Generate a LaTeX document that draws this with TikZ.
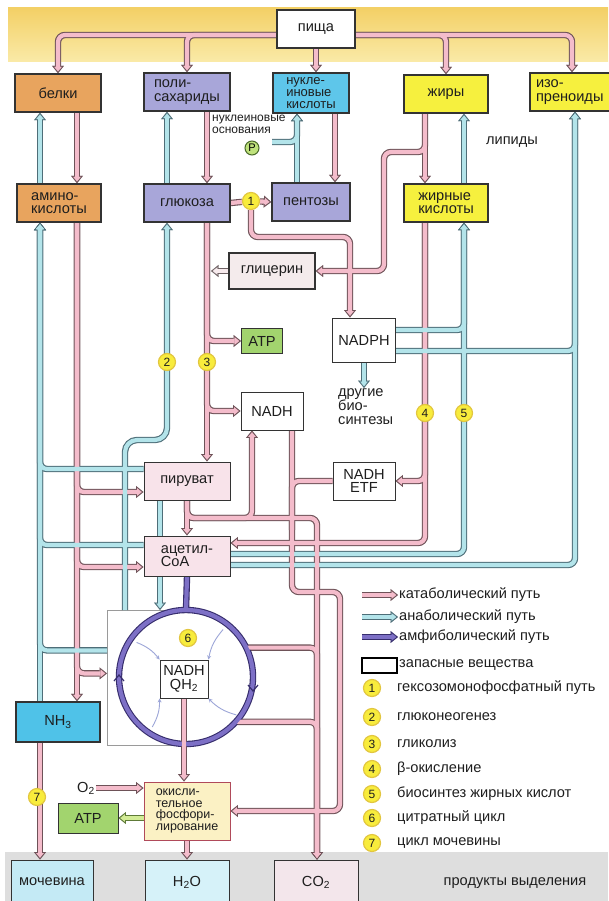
\documentclass[tikz,border=0pt]{standalone}
\usepackage{fontspec}
\setmainfont{Liberation Sans}
\usetikzlibrary{arrows.meta,calc}

\pgfdeclarelayer{fon}
\pgfsetlayers{fon,main}

\definecolor{katF}{HTML}{F4BCCB}
\definecolor{katE}{HTML}{6E5258}
\definecolor{anaF}{HTML}{B3E4EA}
\definecolor{anaE}{HTML}{4E6E78}
\definecolor{amfF}{HTML}{7D70C6}
\definecolor{amfE}{HTML}{362D6C}
\definecolor{zelF}{HTML}{D3EC96}
\definecolor{zelE}{HTML}{5E7A38}
\definecolor{svetF}{HTML}{F7EAED}
\definecolor{svetE}{HTML}{6E6264}
\definecolor{ramka}{HTML}{333333}
\definecolor{tekst}{HTML}{1E1E1E}
\definecolor{pishaF}{HTML}{FFFFFF}
\definecolor{belF}{HTML}{E8A45E}
\definecolor{uglF}{HTML}{A8A6D9}
\definecolor{nukF}{HTML}{5EC6EA}
\definecolor{zhF}{HTML}{F6F03E}
\definecolor{glicF}{HTML}{F4EBEC}
\definecolor{atpF}{HTML}{A2D46E}
\definecolor{pirF}{HTML}{F8E3EA}
\definecolor{oxF}{HTML}{FBF1C4}
\definecolor{oxE}{HTML}{B04A5A}
\definecolor{nhF}{HTML}{4FC2E8}
\definecolor{mochF}{HTML}{C4EAF5}
\definecolor{vodaF}{HTML}{D6F2F9}
\definecolor{coF}{HTML}{F3E6EB}
\definecolor{numF}{HTML}{F8EC3C}
\definecolor{numE}{HTML}{E2C640}
\definecolor{fosF}{HTML}{BFE27C}
\definecolor{fosE}{HTML}{4A6A2A}
\definecolor{topA}{HTML}{F3D066}
\definecolor{topB}{HTML}{FAEAA8}
\definecolor{seryj}{HTML}{DEDEDE}
\definecolor{zapE}{HTML}{9A9A9A}
\definecolor{malC}{HTML}{9DA6D8}

\newcommand\shrift{\fontsize{14.6}{13.5}\selectfont}
\newcommand\melkij{\fontsize{12}{11.5}\selectfont}
\newcommand\cifra{\fontsize{12}{12}\selectfont}

\tikzset{
  blok/.style={draw=ramka, line width=0.9pt, minimum width=84pt, minimum height=38pt,
    inner sep=1pt, font=\shrift, text=tekst, align=center},
  verh/.style={blok, line width=1.4pt, align=left},
  num/.style={circle, fill=numF, draw=numE, line width=1.2pt, minimum size=17pt,
    inner sep=0pt, font=\cifra, text=tekst},
  leg/.style={font=\shrift, text=tekst, inner sep=1pt, anchor=west},
  obvod/.style={line width=6.4pt, rounded corners=7pt},
  zaliv/.style={line width=4.2pt, rounded corners=7pt},
  prohod1/.style={kat/.style={obvod, draw=katE}, ana/.style={obvod, draw=anaE},
    amf/.style={obvod, draw=amfE}, zel/.style={obvod, draw=zelE}, svet/.style={obvod, draw=svetE},
    strelka/.style={-{Triangle[width=12pt, length=7.5pt, line width=0.1pt]}}},
  prohod2/.style={kat/.style={zaliv, draw=katF}, ana/.style={zaliv, draw=anaF},
    amf/.style={zaliv, draw=amfF}, zel/.style={zaliv, draw=zelF}, svet/.style={zaliv, draw=svetF},
    strelka/.style={-{Triangle[width=7.4pt, length=4.6pt, sep=1.8pt, line width=0.1pt]}}},
  mal/.style={draw=malC, line width=0.9pt, -{Stealth[length=4pt, width=4pt]}},
}

% все трубы: рисуются дважды (контур, потом заливка)
\newcommand\truby{%
  % пища
  \draw[kat,strelka] ([yshift=-6pt]pisha.west) -| (belki.north);
  \draw[kat,strelka] ([yshift=-6pt]pisha.west) -| (poly.north);
  \draw[kat,strelka] (pisha.south) -- (pisha.south |- nukl.north);
  \draw[kat,strelka] ([yshift=-6pt]pisha.east) -| (zhiry.north);
  \draw[kat,strelka] ([yshift=-6pt]pisha.east) -| (izo.north);
  % белки, аминокислоты
  \draw[kat,strelka] (belki.south -| xb) -- (amino.north -| xb);
  \draw[ana,strelka] (amino.north -| xa) -- (belki.south -| xa);
  \draw[kat,strelka] (amino.south -| xb) -- (nh3.north -| xb);
  \draw[ana,strelka] (nh3.north -| xa) -- (amino.south -| xa);
  \draw[kat,strelka] (amino.south -| xb) |- ([yshift=-11pt]piruv.west);
  \draw[kat,strelka] (amino.south -| xb) |- ([yshift=-11pt]acetyl.west);
  \draw[kat,strelka] (amino.south -| xb) |- ([yshift=4.5pt]zap.west);
  \draw[ana,strelka] ([yshift=12pt]piruv.west) -| (amino.south -| xa);
  \draw[ana,strelka] ([yshift=11pt]acetyl.west) -| (amino.south -| xa);
  \draw[ana,strelka] ([yshift=27.5pt]zap.west) -| (amino.south -| xa);
  \draw[kat,strelka] (nh3.south -| xa) -- (moch.north -| xa);
  % углеводы
  \draw[kat,strelka] (poly.south -| xk) -- (gluk.north -| xk);
  \draw[ana,strelka] (gluk.north -| xg) -- (poly.south -| xg);
  \draw[ana,strelka,rounded corners=12pt] (zap.north -| xc) |- (j3) -- (gluk.south -| xg);
  \draw[kat,strelka] (gluk.south -| xk) -- (piruv.north -| xk);
  \draw[kat,strelka] (gluk.south -| xk) |- (atp1.west);
  \draw[kat,strelka] (gluk.south -| xk) |- (nadh.west);
  \draw[svet,strelka] (glic.west) -- (glic.west -| xk2);
  \draw[kat] (gluk.east) -- (c1);
  \draw[kat,strelka] (c1) -- (pent.west);
  \draw[kat,strelka] (c1) -- ++(0,36) -| (nadph.north -| xn);
  % нуклеиновые кислоты
  \draw[kat,strelka] (nukl.south -| xnu2) -- (pent.north -| xnu2);
  \draw[ana,strelka] (pent.north -| xnu1) -- (nukl.south -| xnu1);
  \draw[ana,strelka] (nb) -| (nukl.south -| xnu1);
  % жиры
  \draw[kat,strelka] (zhiry.south -| xf) -- (zhk.north -| xf);
  \draw[kat,strelka] (zhiry.south -| xf) |- (j4) |- (glic.east);
  \draw[ana,strelka] (zhk.north -| xs) -- (zhiry.south -| xs);
  \draw[kat,strelka] (zhk.south -| xf) |- ([yshift=13pt]acetyl.east);
  \draw[kat,strelka] (zhk.south -| xf) |- (etf.east);
  \draw[ana,strelka] ([yshift=2pt]acetyl.east) -| (zhk.south -| xs);
  \draw[ana,strelka] ([yshift=10pt]nadph.east) -| (zhk.south -| xs);
  \draw[ana,strelka] ([yshift=-9pt]acetyl.east) -| (izo.south -| xi);
  \draw[ana,strelka] ([yshift=-11pt]nadph.east) -| (izo.south -| xi);
  \draw[ana,strelka] (nadph.south) -- (nadph.south |- drug.north);
  % пируват, NADH
  \draw[kat,strelka] (piruv.south) -- (acetyl.north);
  \draw[kat,strelka] (piruv.south) |- (j5) -- (co2.north -| xco);
  \draw[kat,strelka] (piruv.south) |- (j6) -- (nadh.south -| xnb);
  \draw[ana,strelka] (piruv.south -| xp) -- (zap.north -| xp);
  \draw[kat,strelka] (nadh.south -| xq) |- (j7) |- (ox.east);
  \draw[kat] (etf.west) -| (j8);
  % цикл
  \draw[kat,strelka] (cyc.26) -| (co2.north -| xco);
  \draw[kat,strelka] (cyc.-42) -| (co2.north -| xco);
  \draw[amf] (cyc.center) circle[radius=67pt];
  \draw[amf] (acetyl.south) -- (cyc.north);
  \draw[kat,strelka] (nadhq.south) -- (nadhq.south |- ox.north);
  \draw[kat,strelka] (o2) -- ([yshift=23pt]ox.west);
  \draw[zel,strelka] (ox.west |- atp2.east) -- (atp2.east);
  \draw[kat,strelka] (ox.south) -- (h2o.north);
  % легенда
  \draw[kat,strelka] (lk0) -- (lk.west);
  \draw[ana,strelka] (la0) -- (la.west);
  \draw[amf,strelka] (lm0) -- (lm.west);
}

\begin{document}
\begin{tikzpicture}[x=1pt, y=-1pt]
\useasboundingbox (0,0) rectangle (608,901);

% узлы
\node[verh, fill=pishaF, minimum width=78pt] (pisha) at (316,29) {пища};
\node[verh, fill=belF, minimum width=86pt] (belki) at (58,93) {белки};
\node[verh, fill=uglF, minimum width=86pt] (poly) at (187,92) {поли-\\сахариды};
\node[verh, fill=nukF, minimum width=76pt, minimum height=40pt, font=\fontsize{13}{11.8}\selectfont] (nukl) at (311,93) {нукле-\\иновые\\кислоты};
\node[verh, fill=zhF] (zhiry) at (446,94) {жиры};
\node[verh, fill=zhF, text width=72pt] (izo) at (572,92) {изо-\\преноиды};
\node[verh, fill=belF] (amino) at (59,203) {амино-\\кислоты};
\node[verh, fill=uglF, minimum width=86pt] (gluk) at (187,203) {глюкоза};
\node[verh, fill=uglF, minimum width=78pt] (pent) at (311,202) {пентозы};
\node[verh, fill=zhF] (zhk) at (446,203) {жирные\\кислоты};
\node[blok, fill=glicF, line width=1.2pt, minimum width=86pt, minimum height=36pt] (glic) at (272,271) {глицерин};
\node[blok, fill=atpF, minimum width=41pt, minimum height=25pt] (atp1) at (262,341) {ATP};
\node[blok, fill=white, minimum width=63pt, minimum height=44pt] (nadph) at (364,340) {NADPH};
\node[blok, fill=white, minimum width=62pt] (nadh) at (272,411) {NADH};
\node[blok, fill=pirF, minimum width=86pt] (piruv) at (187,481) {пируват};
\node[blok, fill=white, minimum width=62pt] (etf) at (364,481) {NADH\\ETF};
\node[blok, fill=pirF, minimum width=86pt, minimum height=40pt, align=left] (acetyl) at (187,556) {ацетил-\\CoA};
\node[circle, minimum size=134pt, inner sep=0pt, outer sep=0pt] (cyc) at (186,677) {};
\node[blok, fill=white, minimum width=48pt, minimum height=38pt] (nadhq) at (184,679) {NADH\\QH\textsubscript{2}};
\node[blok, fill=oxF, draw=oxE, minimum width=86pt, minimum height=58pt, align=left, font=\fontsize{12.5}{11.5}\selectfont] (ox) at (187,811) {окисли-\\тельное\\фосфори-\\лирование};
\node[blok, fill=atpF, minimum width=60pt, minimum height=30pt] (atp2) at (88,818) {ATP};
\node[verh, fill=nhF, minimum height=40pt] (nh3) at (58,722) {NH\textsubscript{3}};
\node[blok, fill=mochF, minimum width=82pt, minimum height=44pt] (moch) at (52,882) {мочевина};
\node[blok, fill=vodaF, minimum width=84pt, minimum height=44pt] (h2o) at (187,882) {H\textsubscript{2}O};
\node[blok, fill=coF, minimum width=84pt, minimum height=44pt] (co2) at (316,882) {CO\textsubscript{2}};

% номера путей
\node[num] (c1) at (251,201) {1};
\node[num] (c2) at (167,362) {2};
\node[num] (c3) at (207,362) {3};
\node[num] (c4) at (425,413) {4};
\node[num] (c5) at (464,413) {5};
\node[num] (c6) at (188,638) {6};
\node[num] (c7) at (37,797) {7};

% подписи
\node[font=\melkij, text=tekst, align=left, anchor=north west, inner sep=0pt] (nosn) at (212,115) {нуклеиновые\\основания};
\node[circle, fill=fosF, draw=fosE, line width=1pt, minimum size=14pt, inner sep=0pt, font=\fontsize{11}{11}\selectfont] (fosf) at (252,148) {P};
\node[font=\shrift, text=tekst, align=left, anchor=north west, inner sep=0pt] (drug) at (338,388) {другие\\био-\\синтезы};
\node[font=\shrift, text=tekst] (lip) at (512,142) {липиды};
\node[font=\shrift, text=tekst, inner sep=1pt] (o2) at (86,788) {O\textsubscript{2}};
\node[font=\shrift, text=tekst] (prod) at (515,883) {продукты выделения};

% легенда
\coordinate (lk0) at (362,595);
\coordinate (la0) at (362,617);
\coordinate (lm0) at (362,637);
\node[leg] (lk) at (398,595) {катаболический путь};
\node[leg] (la) at (398,617) {анаболический путь};
\node[leg] (lm) at (398,637) {амфиболический путь};
\node[draw=black, line width=1.6pt, fill=white, minimum width=35pt, minimum height=15pt, inner sep=0pt] (lz) at (379.5,665.5) {};
\node[leg] (lzt) at (398,665) {запасные вещества};
\node[num] (n1) at (372,688) {1};
\node[leg] (t1) at (396,688) {гексозомонофосфатный путь};
\node[num] (n2) at (372,717) {2};
\node[leg] (t2) at (396,717) {глюконеогенез};
\node[num] (n3) at (372,744) {3};
\node[leg] (t3) at (396,744) {гликолиз};
\node[num] (n4) at (372,769) {4};
\node[leg] (t4) at (396,769) {β-окисление};
\node[num] (n5) at (372,794) {5};
\node[leg] (t5) at (396,794) {биосинтез жирных кислот};
\node[num] (n6) at (372,818) {6};
\node[leg] (t6) at (396,818) {цитратный цикл};
\node[num] (n7) at (372,843) {7};
\node[leg] (t7) at (396,843) {цикл мочевины};

% полосы и точки изгибов
\coordinate (xa) at (40,0);
\coordinate (xb) at (77,0);
\coordinate (xc) at (125,0);
\coordinate (xp) at (160,0);
\coordinate (xg) at (167,0);
\coordinate (xk) at (207,0);
\coordinate (xk2) at (211,0);
\coordinate (xnb) at (252,0);
\coordinate (xq) at (292,0);
\coordinate (xnu1) at (297,0);
\coordinate (xco) at (317,0);
\coordinate (xnu2) at (335,0);
\coordinate (xn) at (350,0);
\coordinate (xf) at (425,0);
\coordinate (xs) at (464,0);
\coordinate (xi) at (575,0);
\coordinate (j3) at (167,440);
\coordinate (j4) at (384,152);
\coordinate (j5) at (317,518);
\coordinate (j6) at (252,518);
\coordinate (j7) at (340,592);
\coordinate (j8) at (292,530);
\coordinate (nb) at (272,142);

% фон и трубы
\begin{pgfonlayer}{fon}
  \shade[top color=topA, bottom color=topB] (8,8) rectangle (608,62);
  \fill[seryj] (5,852) rectangle (608,901);
  \node[draw=zapE, line width=0.8pt, fill=white, minimum width=75pt, minimum height=135pt, anchor=north west, inner sep=0pt] (zap) at (107,610) {};
  \fill[white] (cyc.center) circle[radius=67pt];
  \begin{scope}[prohod1] \truby \end{scope}
  \begin{scope}[prohod2] \truby \end{scope}
\end{pgfonlayer}

% стрелки внутри цикла
\draw[mal] ($(cyc.center)!0.9!(cyc.145)$) to[bend left=15] (nadhq.north west);
\draw[mal] ($(cyc.center)!0.9!(cyc.52)$) to[bend right=15] (nadhq.north east);
\draw[mal] ($(cyc.center)!0.9!(cyc.236)$) to[bend right=15] (nadhq.south west);
\draw[mal] ($(cyc.center)!0.94!(cyc.-37)$) to[bend left=15] (nadhq.south east);
\draw[amfE, line width=1.2pt] (114,681) -- (119,675) -- (124,681);
\draw[amfE, line width=1.2pt] (248,685) -- (253,691) -- (258,685);
\end{tikzpicture}
\end{document}
